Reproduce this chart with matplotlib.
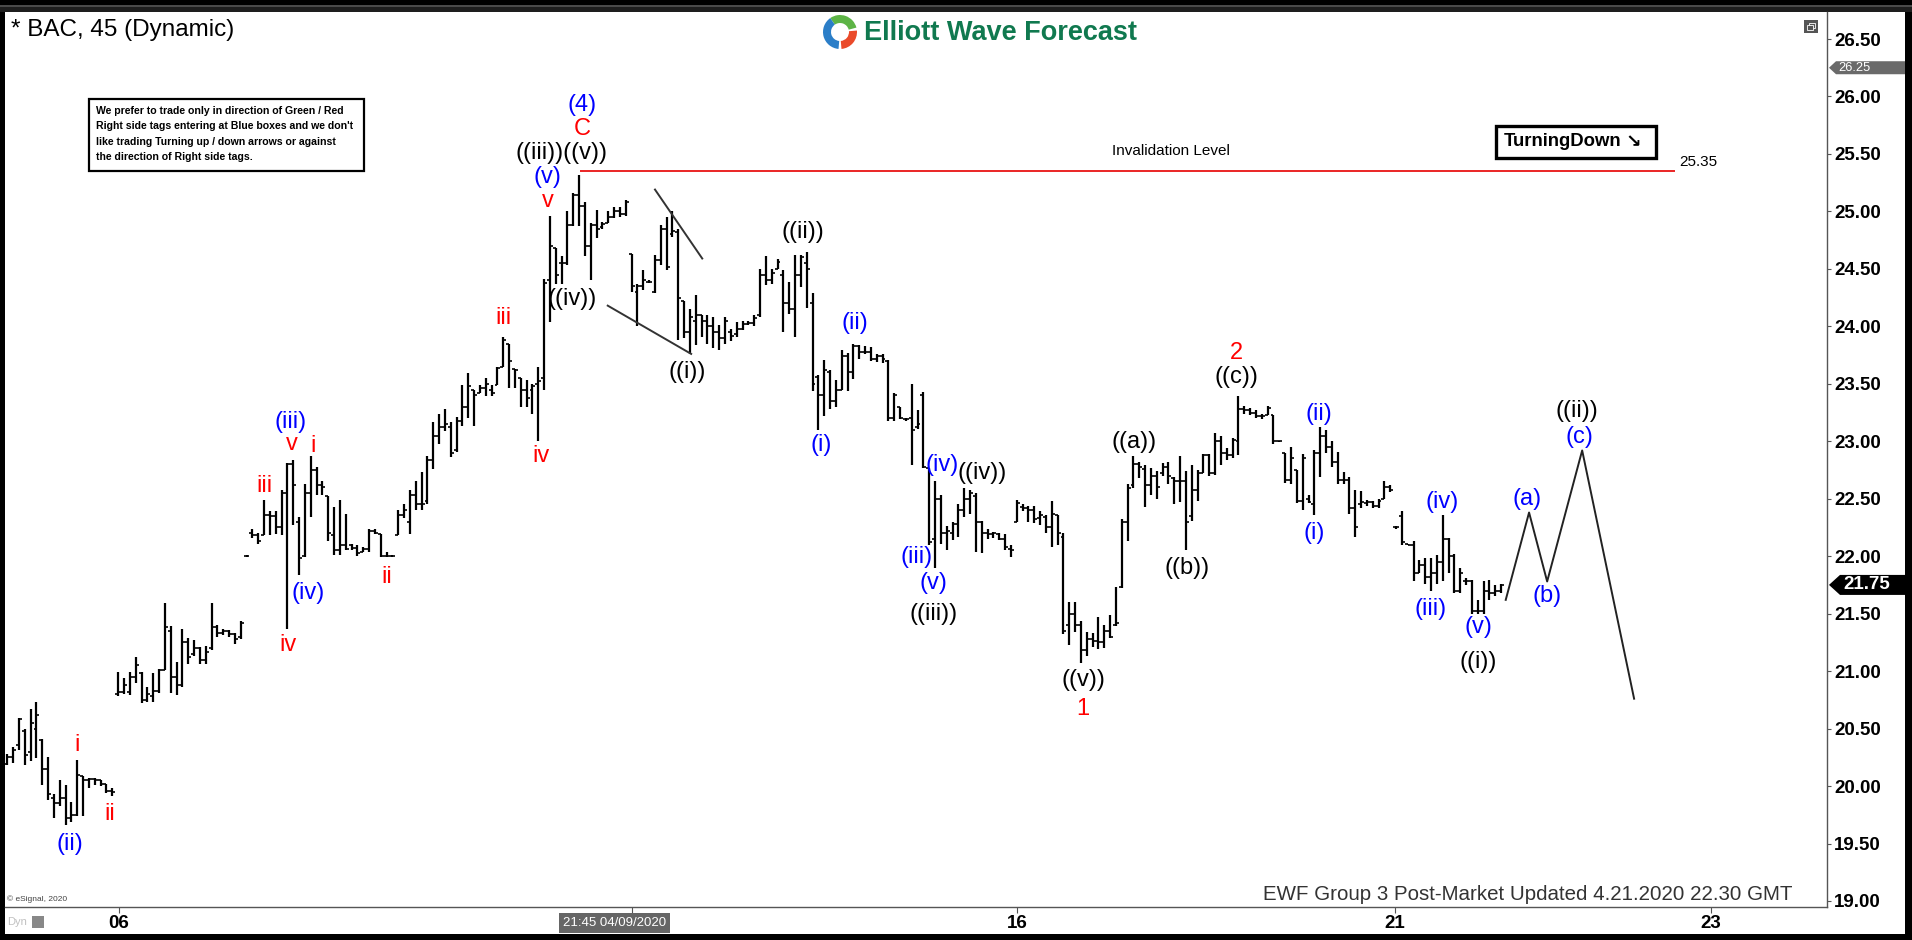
"""BAC 45 min Elliott Wave chart (eSignal style), redrawn with matplotlib."""

import matplotlib

matplotlib.use("Agg")
import matplotlib.pyplot as plt  # noqa: E402
import numpy as np  # noqa: E402
from matplotlib.patches import Polygon, Rectangle, Wedge  # noqa: E402

plt.rcParams["font.family"] = ["Liberation Sans", "DejaVu Sans"]

# ---------------------------------------------------------------- data
bar_open = [
    20.19, 20.25, 20.36, 20.48, 20.30, 20.50, 20.40, 20.15, 19.90, 19.85,
    19.90, 19.72, 19.75, 20.09, 20.05, 20.06, 20.05, 20.02, 19.96,
    20.80, 20.82, 20.82, 20.95, 20.98, 20.75, 20.78, 20.83, 21.01, 21.35,
    20.95, 20.88, 21.25, 21.15, 21.20, 21.10, 21.20, 21.38, 21.33, 21.35,
    21.32, 21.30, 22.00,
    22.20, 22.18, 22.18, 22.36, 22.35, 22.25, 22.55, 22.80, 22.30, 22.00,
    22.55, 22.75, 22.62, 22.52, 22.18, 22.05, 22.10, 22.10, 22.07, 22.04,
    22.06, 22.22, 22.19, 22.00, 22.00, 22.18, 22.36, 22.30, 22.53, 22.45,
    22.48, 22.84, 23.05, 23.12, 23.12, 22.92, 23.18, 23.30, 23.45, 23.42,
    23.46, 23.45, 23.49, 23.65, 23.85, 23.63, 23.55, 23.45, 23.45, 23.50, 23.55,
    24.40, 24.68, 24.55, 24.55, 24.88, 25.14, 25.05, 24.70, 24.88, 24.86,
    24.90, 24.95, 25.00, 24.98, 24.63, 24.30, 24.35, 24.39, 24.30, 24.58,
    24.85, 24.80, 24.82, 24.22, 23.95, 24.05, 24.10, 24.05, 24.00, 23.95,
    23.90, 23.95, 23.93, 23.98, 24.02, 24.03, 24.10, 24.45, 24.40, 24.50,
    24.45, 24.20, 24.15, 24.45, 24.55, 24.20, 23.56,
    23.40, 23.60, 23.35, 23.45, 23.74, 23.60, 23.83, 23.78, 23.78, 23.72,
    23.74, 23.70, 23.20, 23.30, 23.19, 23.20, 23.12, 23.40, 22.77, 22.15,
    22.50, 22.20, 22.20, 22.28, 22.40, 22.50, 22.52, 22.30, 22.20, 22.19,
    22.19, 22.15, 22.06, 22.30, 22.43, 22.42, 22.40, 22.33, 22.34, 22.25, 22.36,
    22.17, 21.40, 21.50, 21.40, 21.18, 21.28, 21.26, 21.25, 21.35, 21.40,
    21.73, 22.30, 22.62, 22.80, 22.76, 22.62, 22.70, 22.72, 22.78, 22.68,
    22.65, 22.65, 22.35, 22.58, 22.72, 22.88, 22.72, 23.00, 22.90, 22.88,
    23.00, 23.28, 23.27, 23.25, 23.22, 23.23, 23.23, 23.00, 22.90, 22.66, 22.75,
    22.48, 22.50, 22.45, 22.90, 23.05, 22.95, 22.82, 22.66, 22.66, 22.42,
    22.45, 22.46, 22.47, 22.44, 22.50, 22.60, 22.25, 22.35, 22.11, 22.10,
    21.85, 21.92, 21.82, 21.85, 21.95, 22.15, 22.00, 21.70, 21.78, 21.78,
    21.52, 21.52, 21.70, 21.68, 21.70,
]
bar_high = [
    20.28, 20.34, 20.59, 20.50, 20.67, 20.73, 20.41, 20.25, 19.93, 20.05,
    20.01, 19.86, 20.23, 20.09, 20.07, 20.07, 20.05, 20.02, 19.98,
    20.99, 20.94, 20.99, 21.12, 20.99, 20.86, 20.98, 21.02, 21.59, 21.39,
    21.08, 21.37, 21.29, 21.27, 21.21, 21.22, 21.59, 21.40, 21.37, 21.36,
    21.33, 21.44, 22.01,
    22.24, 22.20, 22.49, 22.39, 22.39, 22.58, 22.81, 22.84, 22.34, 22.63,
    22.87, 22.78, 22.65, 22.52, 22.43, 22.49, 22.37, 22.11, 22.10, 22.08,
    22.24, 22.24, 22.19, 22.04, 22.01, 22.40, 22.45, 22.58, 22.65, 22.73,
    22.87, 23.17, 23.24, 23.28, 23.17, 23.21, 23.49, 23.59, 23.45, 23.49,
    23.55, 23.49, 23.65, 23.91, 23.85, 23.63, 23.55, 23.53, 23.50, 23.65, 24.41,
    24.96, 24.68, 24.61, 25.00, 25.16, 25.32, 25.08, 24.90, 25.01, 24.91,
    25.00, 25.04, 25.04, 25.10, 24.63, 24.37, 24.49, 24.40, 24.62, 24.88,
    24.95, 25.00, 24.85, 24.22, 24.15, 24.27, 24.10, 24.10, 24.08, 24.01,
    24.08, 23.98, 24.04, 24.05, 24.05, 24.10, 24.50, 24.61, 24.50, 24.59,
    24.49, 24.39, 24.62, 24.62, 24.65, 24.29, 23.58,
    23.71, 23.62, 23.53, 23.79, 23.77, 23.85, 23.84, 23.83, 23.82, 23.76,
    23.76, 23.71, 23.42, 23.30, 23.20, 23.50, 23.27, 23.43, 22.77, 22.65,
    22.53, 22.26, 22.30, 22.45, 22.59, 22.58, 22.55, 22.31, 22.24, 22.21,
    22.20, 22.19, 22.10, 22.49, 22.45, 22.44, 22.44, 22.39, 22.36, 22.48, 22.36,
    22.20, 21.60, 21.60, 21.44, 21.34, 21.33, 21.47, 21.40, 21.49, 21.73,
    22.32, 22.63, 22.87, 22.82, 22.79, 22.77, 22.74, 22.81, 22.82, 22.69,
    22.87, 22.74, 22.79, 22.75, 22.89, 22.89, 23.07, 23.05, 22.94, 23.03,
    23.39, 23.31, 23.29, 23.27, 23.24, 23.31, 23.23, 23.00, 22.90, 22.95, 22.75,
    22.89, 22.53, 22.92, 23.12, 23.10, 23.00, 22.91, 22.73, 22.69, 22.58,
    22.57, 22.49, 22.48, 22.50, 22.65, 22.62, 22.26, 22.39, 22.11, 22.13,
    21.97, 21.98, 21.98, 22.01, 22.36, 22.16, 22.02, 21.90, 21.81, 21.79,
    21.62, 21.78, 21.79, 21.75, 21.76,
]
bar_low = [
    20.18, 20.20, 20.31, 20.18, 20.22, 20.24, 20.01, 19.88, 19.72, 19.83,
    19.66, 19.69, 19.74, 19.74, 19.98, 20.01, 20.00, 19.94, 19.91,
    20.78, 20.80, 20.79, 20.90, 20.72, 20.73, 20.73, 20.81, 21.01, 20.81,
    20.79, 20.86, 21.06, 21.13, 21.06, 21.06, 21.18, 21.30, 21.31, 21.30,
    21.24, 21.28, 21.99,
    22.16, 22.11, 22.18, 22.18, 22.19, 22.18, 21.37, 22.27, 21.84, 21.99,
    22.34, 22.53, 22.53, 22.13, 22.01, 22.01, 22.05, 22.05, 22.00, 22.04,
    22.04, 22.19, 21.99, 21.99, 21.99, 22.18, 22.33, 22.19, 22.40, 22.40,
    22.45, 22.76, 22.98, 23.09, 22.86, 22.91, 23.13, 23.20, 23.13, 23.42,
    23.39, 23.39, 23.49, 23.65, 23.46, 23.46, 23.30, 23.30, 23.24, 23.00, 23.45,
    24.04, 24.37, 24.37, 24.53, 24.87, 24.87, 24.61, 24.40, 24.77, 24.85,
    24.90, 24.94, 24.95, 24.96, 24.30, 24.00, 24.32, 24.38, 24.29, 24.53,
    24.49, 24.78, 23.88, 23.90, 23.76, 23.84, 23.91, 23.85, 23.81, 23.79,
    23.85, 23.87, 23.91, 23.97, 24.01, 24.00, 24.08, 24.36, 24.37, 24.50,
    23.95, 24.11, 23.91, 24.34, 24.16, 23.44, 23.10,
    23.22, 23.28, 23.30, 23.45, 23.44, 23.54, 23.72, 23.76, 23.70, 23.69,
    23.68, 23.18, 23.18, 23.19, 23.18, 22.79, 23.11, 22.77, 22.10, 21.90,
    22.11, 22.05, 22.14, 22.17, 22.34, 22.37, 22.04, 22.03, 22.15, 22.16,
    22.14, 22.05, 21.99, 22.30, 22.39, 22.30, 22.29, 22.27, 22.20, 22.08, 22.10,
    21.32, 21.23, 21.34, 21.07, 21.13, 21.21, 21.19, 21.20, 21.29, 21.39,
    21.72, 22.13, 22.59, 22.68, 22.43, 22.53, 22.50, 22.70, 22.63, 22.45,
    22.47, 22.05, 22.31, 22.48, 22.72, 22.70, 22.71, 22.79, 22.84, 22.85,
    22.88, 23.24, 23.23, 23.20, 23.19, 23.23, 22.98, 22.99, 22.64, 22.63, 22.46,
    22.40, 22.46, 22.36, 22.69, 22.90, 22.78, 22.63, 22.63, 22.37, 22.17,
    22.42, 22.44, 22.42, 22.42, 22.50, 22.56, 22.24, 22.10, 22.10, 21.78,
    21.85, 21.76, 21.70, 21.76, 21.78, 21.85, 21.68, 21.68, 21.75, 21.50,
    21.50, 21.50, 21.62, 21.65, 21.68,
]
bar_close = [
    20.25, 20.31, 20.58, 20.27, 20.55, 20.62, 20.15, 19.93, 19.85, 19.90,
    19.72, 19.75, 20.10, 20.05, 20.06, 20.05, 20.02, 19.96, 19.95,
    20.82, 20.88, 20.95, 21.05, 20.75, 20.80, 20.83, 21.01, 21.38, 20.95,
    20.88, 21.25, 21.12, 21.20, 21.10, 21.17, 21.38, 21.33, 21.35, 21.32,
    21.28, 21.42, 22.00,
    22.18, 22.13, 22.36, 22.35, 22.25, 22.55, 22.80, 22.62, 21.98, 22.55,
    22.75, 22.62, 22.60, 22.20, 22.05, 22.10, 22.06, 22.07, 22.03, 22.06,
    22.22, 22.20, 22.00, 22.00, 22.00, 22.36, 22.40, 22.53, 22.45, 22.45,
    22.84, 23.05, 23.12, 23.15, 22.90, 23.18, 23.30, 23.48, 23.40, 23.46,
    23.50, 23.42, 23.64, 23.88, 23.70, 23.62, 23.45, 23.38, 23.48, 23.52, 24.38,
    24.70, 24.45, 24.55, 24.88, 25.14, 25.05, 24.70, 24.88, 24.85, 24.89,
    24.95, 25.00, 24.98, 25.08, 24.35, 24.35, 24.40, 24.39, 24.58, 24.85,
    24.52, 24.83, 24.25, 23.95, 24.08, 24.10, 24.05, 24.00, 23.95, 23.90,
    24.05, 23.92, 23.98, 24.02, 24.03, 24.07, 24.45, 24.40, 24.46, 24.56,
    24.20, 24.15, 24.45, 24.60, 24.50, 23.50, 23.40,
    23.62, 23.35, 23.45, 23.74, 23.60, 23.83, 23.78, 23.78, 23.72, 23.74,
    23.72, 23.20, 23.40, 23.20, 23.19, 23.10, 23.15, 22.78, 22.12, 22.50,
    22.20, 22.22, 22.28, 22.40, 22.50, 22.55, 22.30, 22.20, 22.19, 22.20,
    22.15, 22.08, 22.05, 22.46, 22.42, 22.40, 22.32, 22.36, 22.25, 22.37, 22.20,
    21.35, 21.50, 21.40, 21.18, 21.28, 21.26, 21.25, 21.35, 21.30, 21.42,
    22.30, 22.59, 22.80, 22.78, 22.62, 22.70, 22.60, 22.78, 22.70, 22.65,
    22.65, 22.30, 22.58, 22.72, 22.88, 22.72, 23.00, 22.90, 22.88, 23.01,
    23.28, 23.27, 23.25, 23.22, 23.22, 23.29, 23.00, 23.00, 22.66, 22.85, 22.48,
    22.85, 22.47, 22.90, 23.05, 22.95, 22.82, 22.66, 22.66, 22.42, 22.25,
    22.47, 22.47, 22.44, 22.48, 22.60, 22.58, 22.25, 22.12, 22.10, 21.85,
    21.92, 21.82, 21.85, 21.95, 22.15, 22.00, 21.70, 21.85, 21.78, 21.52,
    21.52, 21.70, 21.68, 21.70, 21.75,
]

price_ticks = [19.0, 19.5, 20.0, 20.5, 21.0, 21.5, 22.0, 22.5,
               23.0, 23.5, 24.0, 24.5, 25.0, 25.5, 26.0, 26.5]
day_tick_pos = [19.1, 173.0, 237.8, 292.0]
day_tick_labels = ["06", "16", "21", "23"]
cursor_pos = 107.1
cursor_label = "21:45 04/09/2020"

invalidation_level = 25.35
invalidation_span = [98.2, 285.8]
marker_price = 26.25

# projected path after the last bar
proj_x = [256.8, 260.8, 263.9, 269.9, 278.8]
proj_y = [21.62, 22.38, 21.78, 22.92, 20.76]

# wedge lines drawn around wave ((i))
wedge_upper_x = [111.0, 119.1]
wedge_upper_y = [25.19, 24.59]
wedge_lower_x = [102.9, 117.2]
wedge_lower_y = [24.18, 23.76]

BLUE, RED, BLACK = "#0000ff", "#ff0000", "#000000"
wave_labels = [
    ("(ii)", 10.7, 19.50, BLUE), ("i", 11.9, 20.36, RED), ("ii", 17.6, 19.76, RED),
    ("iii", 44.0, 22.61, RED), ("(iii)", 48.6, 23.17, BLUE), ("v", 48.8, 22.98, RED),
    ("i", 52.4, 22.96, RED), ("(iv)", 51.5, 21.68, BLUE), ("iv", 48.1, 21.23, RED),
    ("ii", 65.1, 21.82, RED), ("iii", 85.1, 24.07, RED), ("iv", 91.5, 22.87, RED),
    ("(4)", 98.5, 25.93, BLUE), ("C", 98.5, 25.72, RED),
    ("((iii))((v))", 95.0, 25.51, BLACK), ("(v)", 92.5, 25.30, BLUE),
    ("v", 92.7, 25.09, RED), ("((iv))", 96.8, 24.24, BLACK),
    ("((i))", 116.5, 23.60, BLACK), ("((ii))", 136.4, 24.82, BLACK),
    ("(ii)", 145.3, 24.03, BLUE), ("(i)", 139.5, 22.97, BLUE),
    ("(iv)", 160.2, 22.79, BLUE), ("((iv))", 167.1, 22.72, BLACK),
    ("(iii)", 155.9, 21.99, BLUE), ("(v)", 158.7, 21.77, BLUE),
    ("((iii))", 158.8, 21.50, BLACK),
    ("((v))", 184.4, 20.92, BLACK), ("1", 184.4, 20.67, RED),
    ("((a))", 193.1, 22.99, BLACK), ("((b))", 202.2, 21.90, BLACK),
    ("((c))", 210.7, 23.56, BLACK), ("2", 210.7, 23.765, RED),
    ("(i)", 223.9, 22.20, BLUE), ("(ii)", 224.8, 23.24, BLUE),
    ("(iii)", 244.0, 21.54, BLUE), ("(iv)", 245.9, 22.47, BLUE),
    ("(v)", 252.2, 21.38, BLUE), ("((i))", 252.1, 21.08, BLACK),
    ("(a)", 260.4, 22.50, BLUE), ("(b)", 263.9, 21.65, BLUE),
    ("(c)", 269.5, 23.04, BLUE), ("((ii))", 269.0, 23.26, BLACK),
]

info_lines = [
    "We prefer to trade only in direction of Green / Red",
    "Right side tags entering at Blue boxes and we don't",
    "like trading Turning up / down arrows or against",
    "the direction of Right side tags.",
]

# ---------------------------------------------------------------- layout
W, H = 1912, 940
PL, PR, PT, PB = 5, 1827, 12, 907          # plot area in pixels
X0, DX = 7.3, 5.835                         # bar 0 position, bar spacing
PX_PER_PRICE = 114.93
Y_TOP = 26.5 + (39 - PT) / PX_PER_PRICE
Y_BOT = 26.5 - (PB - 39) / PX_PER_PRICE


def ax_frac(px):
    return (px - PL) / (PR - PL)


n = len(bar_open)
assert n == len(bar_high) == len(bar_low) == len(bar_close)
idx = np.arange(n)
o, h, lo, c = map(np.asarray, (bar_open, bar_high, bar_low, bar_close))

fig = plt.figure(figsize=(W / 100, H / 100), dpi=100, facecolor="black")

bg = fig.add_axes([0, 0, 1, 1], zorder=0)
bg.set_xlim(0, W)
bg.set_ylim(H, 0)
bg.axis("off")
bg.add_patch(Rectangle((0, 5), W, 1.6, fc="#4a4a4a", ec="none"))
bg.add_patch(Rectangle((0, 6.6), W, 5.4, fc="#1e1e1e", ec="none"))
bg.add_patch(Rectangle((PL, PT), 1905 - PL, 934 - PT, fc="white", ec="none"))

ax = fig.add_axes([PL / W, (H - PB) / H, (PR - PL) / W, (PB - PT) / H], zorder=1)
ax.set_facecolor("white")
ax.set_xlim((PL - X0) / DX, (PR - X0) / DX)
ax.set_ylim(Y_BOT, Y_TOP)
for side in ("left", "top"):
    ax.spines[side].set_visible(False)
for side in ("right", "bottom"):
    ax.spines[side].set_color("#555555")
    ax.spines[side].set_linewidth(1.0)

# OHLC bars
ax.vlines(idx, lo, h, color="black", lw=1.6)
ax.hlines(o, idx - 0.5, idx, color="black", lw=1.2)
ax.hlines(c, idx, idx + 0.5, color="black", lw=1.2)

# price axis
ax.yaxis.tick_right()
ax.set_yticks(price_ticks, labels=[f"{v:.2f}" for v in price_ticks],
              fontsize=13.5, fontweight="bold")
ax.tick_params(axis="y", direction="out", length=3, width=0.8,
               color="#555555", pad=2)
for lbl in ax.get_yticklabels():
    lbl.set_horizontalalignment("left")

# time axis
ax.set_xticks(day_tick_pos, labels=day_tick_labels, fontsize=13.5,
              fontweight="bold")
ax.set_xticks([cursor_pos], minor=True)
ax.tick_params(axis="x", which="both", direction="out", length=4, width=0.8,
               color="#555555", pad=2)
ax.text(cursor_pos - 3.0, -(923 - PB) / (PB - PT), cursor_label,
        transform=ax.get_xaxis_transform(), ha="center", va="center",
        color="white", fontsize=9.5, clip_on=False,
        bbox=dict(boxstyle="square,pad=0.3", fc="#666666", ec="none"))

# invalidation level
ax.hlines(invalidation_level, *invalidation_span, color="#e60000", lw=1.2)
ax.text(invalidation_span[1] + 0.7, invalidation_level + 9 / PX_PER_PRICE,
        f"{invalidation_level:.2f}", ha="left", va="center", fontsize=11)
ax.text(199.4, invalidation_level + 20 / PX_PER_PRICE, "Invalidation Level",
        ha="center", va="center", fontsize=11)

# wedge and projection lines
ax.plot(wedge_upper_x, wedge_upper_y, color="#333333", lw=1.4)
ax.plot(wedge_lower_x, wedge_lower_y, color="#333333", lw=1.4)
ax.plot(proj_x, proj_y, color="#222222", lw=1.4)

for text, x, y, col in wave_labels:
    ax.text(x, y, text, color=col, ha="center", va="center", fontsize=17)

# price tags on the right axis
ytr = ax.get_yaxis_transform()
last = c[-1]
hh = 10 / PX_PER_PRICE
ax.add_patch(Polygon([(ax_frac(1829), last), (ax_frac(1840), last + hh),
                      (ax_frac(1905), last + hh), (ax_frac(1905), last - hh),
                      (ax_frac(1840), last - hh)],
                     closed=True, fc="black", ec="none", transform=ytr,
                     clip_on=False))
ax.text(ax_frac(1843), last, f"{last:.2f}", transform=ytr, color="white",
        fontsize=13.5, fontweight="bold", ha="left", va="center", clip_on=False)
hg = 6.5 / PX_PER_PRICE
ax.add_patch(Polygon([(ax_frac(1829), marker_price),
                      (ax_frac(1836), marker_price + hg),
                      (ax_frac(1905), marker_price + hg),
                      (ax_frac(1905), marker_price - hg),
                      (ax_frac(1836), marker_price - hg)],
                     closed=True, fc="#6a6a6a", ec="none", transform=ytr,
                     clip_on=False))
ax.text(ax_frac(1838), marker_price, f"{marker_price:.2f}", transform=ytr,
        color="white", fontsize=9.3, ha="left", va="center", clip_on=False)

# ---------------------------------------------------------------- overlay
top = fig.add_axes([0, 0, 1, 1], zorder=5)
top.set_xlim(0, W)
top.set_ylim(H, 0)
top.axis("off")
top.patch.set_alpha(0)

top.text(11, 30, "* BAC, 45 (Dynamic)", fontsize=17.5, ha="left", va="center")

# logo
for t1, t2, col in ((-125, -15, "#5db446"), (95, 235, "#2b7ec8"),
                    (-5, 85, "#ea4a2a")):
    top.add_patch(Wedge((840, 32), 17, t1, t2, width=8, fc=col, ec="none"))
top.text(864, 33, "Elliott Wave Forecast", fontsize=19.5, fontweight="bold",
         color="#10794f", ha="left", va="center")

# info box
top.add_patch(Rectangle((89, 99), 275, 72, fc="white", ec="black", lw=1.6))
for k, line in enumerate(info_lines):
    top.text(96, 111 + 15.4 * k, line, fontsize=7.6, fontweight="bold",
             ha="left", va="center")

# turning down tag
top.add_patch(Rectangle((1496, 126), 160, 32, fc="white", ec="black", lw=2.4))
top.text(1504, 142, "TurningDown", fontsize=13.3, fontweight="bold",
         ha="left", va="center")
top.text(1625, 142, "\u2198", fontsize=13.3, fontweight="bold",
         family="DejaVu Sans", ha="left", va="center")

# small window icon, top right
top.add_patch(Rectangle((1804, 20), 14, 13, fc="#555555", ec="none"))
top.add_patch(Rectangle((1809, 23), 6, 5, fill=False, ec="white", lw=0.6))
top.add_patch(Rectangle((1807, 25), 6, 5, fc="#555555", ec="white", lw=0.6))

top.text(1793, 894, "EWF Group 3 Post-Market Updated 4.21.2020 22.30 GMT",
         fontsize=14.8, color="#333333", ha="right", va="center")
top.text(7, 899, "\u00a9 eSignal, 2020", fontsize=6, color="#444444",
         ha="left", va="center")
top.text(7, 922, "Dyn", fontsize=8, color="#c0c0c0", ha="left", va="center")
top.add_patch(Rectangle((32, 916), 12, 12, fc="#888888", ec="none"))

fig.savefig("out.png", dpi=100, facecolor="black")
